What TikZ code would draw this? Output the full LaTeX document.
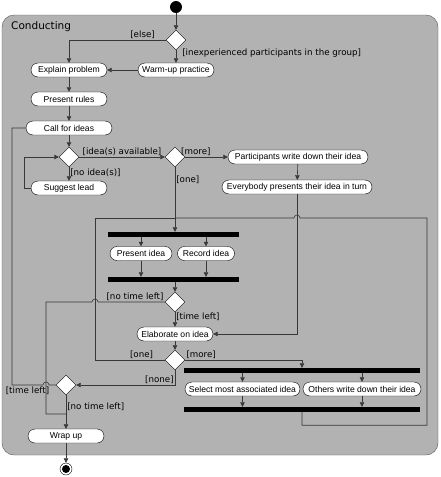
\documentclass[tikz,border=0pt]{standalone}
\usepackage{fontspec}
\setmainfont{DejaVu Sans}
\newfontfamily\actfont{Liberation Sans}
\usetikzlibrary{arrows.meta,shapes.geometric}
\definecolor{lanegray}{gray}{0.70}
\definecolor{linegray}{gray}{0.22}

\begin{document}
\begin{tikzpicture}[x=1pt, y=1pt, >={Triangle[length=4.5pt,width=4.5pt]},
    action/.style ={draw, fill=white, rounded corners=7pt, minimum height=14pt, inner sep=1pt, font=\actfont\fontsize{8.6}{10}\selectfont},
    decision/.style ={diamond, draw, fill=white, minimum width=20pt, minimum height=20pt, inner sep=0pt},
    syncbar/.style ={fill=black, minimum height=5pt, inner sep=0pt},
    guard/.style ={font=\fontsize{8.7}{10}\selectfont, inner sep=1pt},
    flow/.style ={draw=linegray, line width=0.6pt}]
   \useasboundingbox (0,0) rectangle (440,-477);
   \node[draw=black!65, fill=lanegray, rounded corners=12pt, minimum width=436pt, minimum height=440pt] (Z) at (220,-235) {};
   \node[font=\fontsize{10.5}{12}\selectfont, anchor=west, inner sep=0pt] (Zl) at (11,-27) {Conducting};
   \node[circle, fill=black, minimum size=12pt, inner sep=0pt] (S) at (176,-7) {};
   \node[decision] (A) at (176,-40) {};
   \node[action, minimum width=76pt] (B) at (176,-70) {Warm-up practice};
   \node[action, minimum width=76pt] (C) at (69,-70) {Explain problem};
   \node[action, minimum width=76pt] (D) at (69,-99) {Present rules};
   \node[action, minimum width=86pt] (E) at (69,-128) {Call for ideas};
   \node[decision] (F) at (69,-157) {};
   \node[action, minimum width=76pt] (G) at (69,-188) {Suggest lead};
   \node[decision] (H) at (175,-157) {};
   \node[action, minimum width=140pt] (I) at (298,-157) {Participants write down their idea};
   \node[action, minimum width=150pt] (J) at (297,-187) {Everybody presents their idea in turn};
   \node[syncbar, minimum width=131pt] (K) at (173.5,-234.5) {};
   \node[action, minimum width=62pt] (L) at (141,-253.5) {Present idea};
   \node[action, minimum width=57pt] (M) at (206,-253.5) {Record idea};
   \node[syncbar, minimum width=131pt] (N) at (173.5,-279.5) {};
   \node[decision] (O) at (175,-302) {};
   \node[action, minimum width=76pt] (P) at (175,-334) {Elaborate on idea};
   \node[decision] (Q) at (175,-360) {};
   \node[syncbar, minimum width=236pt] (R) at (302,-370.5) {};
   \node[action, minimum width=115pt] (T) at (242.5,-389) {Select most associated idea};
   \node[action, minimum width=118pt] (U) at (362,-389) {Others write down their idea};
   \node[syncbar, minimum width=236pt] (V) at (302,-409.5) {};
   \node[decision] (W) at (66,-385) {};
   \node[action, minimum width=76pt] (X) at (66,-436) {Wrap up};
   \node[circle, draw, fill=white, minimum size=12pt, inner sep=0pt,
     path picture={\fill[black] (path picture bounding box.center) circle (4pt);}] (Y) at (66,-469) {};
   \coordinate (m1) at (66,-414);
   \coordinate (m2) at (175,-218);
   \draw[flow, ->] (S) -- (A);
   \draw[flow, ->] (A.west) -| node[guard, pos=0.12, above] {[else]} (C.north);
   \draw[flow, ->] (A.south) -- node[guard, pos=0.2, anchor=west, xshift=5pt] {[inexperienced participants in the group]} (B.north);
   \draw[flow, ->] (B) -- (C);
   \draw[flow, ->] (C) -- (D);
   \draw[flow, ->] (D) -- (E);
   \draw[flow, ->] (E) -- (F);
   \draw[flow, ->] (F) -- node[guard, above] {[idea(s) available]} (H);
   \draw[flow, ->] (F) -- node[guard, pos=0.4, right] {[no idea(s)]} (G);
   \draw[flow, ->] (G.west) -- ++(-7,0) |- (F.west);
   \draw[flow, ->] (H) -- node[guard, near start, above] {[more]} (I);
   \draw[flow, ->] (H) -- node[guard, pos=0.2, right] {[one]} (H |- K.north);
   \draw[flow, ->] (I) -- (J);
   \draw[flow, ->] (J) |- (P);
   \draw[flow, ->] (K.south -| L) -- (L);
   \draw[flow, ->] (K.south -| M) -- (M);
   \draw[flow, ->] (L) -- (L |- N.north);
   \draw[flow, ->] (M) -- (M |- N.north);
   \draw[flow, ->] (N.south -| O) -- (O);
   \draw[flow, ->] (O) -- node[guard, pos=0.3, right] {[time left]} (P);
   \draw[flow] (O.west) -- node[guard, pos=0, anchor=south east] {[no time left]} (98,-302)
     arc[start angle=0, end angle=180, radius=3] -- (46,-302) |- (m1);
   \draw[flow, ->] (P) -- (Q);
   \draw[flow] (Q.west) -- node[guard, pos=0.15, anchor=south east] {[one]} (95,-360) |- (m2);
   \draw[flow, ->] (Q) -| node[guard, pos=0, anchor=south west] {[more]} (R.north);
   \draw[flow, ->] (Q) |- node[guard, pos=0.5, anchor=south east] {[none]} (W);
   \draw[flow, ->] (R.south -| T) -- (T);
   \draw[flow, ->] (R.south -| U) -- (U);
   \draw[flow, ->] (T) -- (T |- V.north);
   \draw[flow, ->] (U) -- (U |- V.north);
   \draw[flow] (V.south) -- ++(0,-13) -| (427,-218) -- (300,-218)
     arc[start angle=0, end angle=180, radius=3] -- (m2);
   \draw[flow] (W.west) -- (49,-385) arc[start angle=0, end angle=180, radius=3]
     -- node[guard, midway, below, yshift=-1pt] {[time left]} (12,-385) |- (E);
   \draw[flow, ->] (W) -- node[guard, pos=0.35, right] {[no time left]} (X);
   \draw[flow, ->] (X) -- (Y);
\end{tikzpicture}
\end{document}
